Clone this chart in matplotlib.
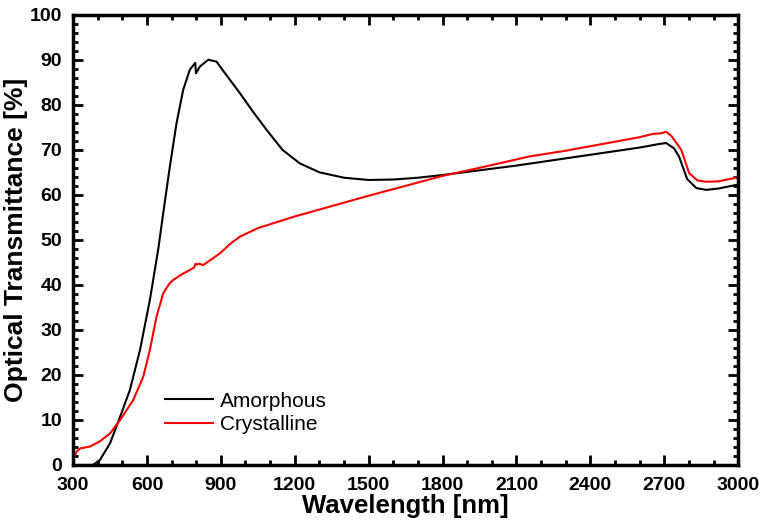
import matplotlib
matplotlib.use('Agg')
import matplotlib.pyplot as plt
from matplotlib.ticker import MultipleLocator

plt.rcParams['font.family'] = ['Liberation Sans', 'DejaVu Sans']

# amorphous film
wl_amorph = [300, 340, 381, 409, 450, 491, 531, 572, 612, 646, 666, 693, 720, 747, 774,
             796, 799, 815, 849, 882, 936, 977, 1030, 1086, 1150, 1220, 1300, 1400, 1500,
             1600, 1700, 1800, 1900, 2000, 2100, 2200, 2300, 2400, 2500, 2600, 2680, 2708,
             2740, 2760, 2793, 2830, 2870, 2920, 2983, 3000]
T_amorph = [0, 0, 0, 1.1, 4.8, 10.7, 16.7, 25.6, 36.7, 48, 55.9, 66.3, 75.9, 83.3, 87.8,
            89.3, 87.0, 88.5, 90, 89.6, 85.6, 82.6, 78.5, 74.4, 70, 67, 65, 63.8, 63.3,
            63.4, 63.8, 64.4, 65.1, 65.8, 66.5, 67.3, 68.1, 68.9, 69.7, 70.5, 71.3, 71.5,
            70.3, 68.5, 63.5, 61.5, 61.1, 61.4, 62.1, 62.3]

# crystalline film
wl_cryst = [300, 315, 330, 369, 410, 450, 491, 544, 585, 612, 639, 666, 690, 707, 740,
            774, 792, 797, 802, 812, 828, 860, 896, 940, 977, 1050, 1200, 1350, 1500,
            1650, 1800, 1950, 2031, 2150, 2300, 2450, 2600, 2651, 2690, 2708, 2730, 2769,
            2801, 2835, 2870, 2920, 2983, 3000]
T_cryst = [1.5, 3, 3.7, 4.1, 5.3, 7.0, 10, 14.4, 19.6, 25.6, 33, 38.1, 40.2, 41.1, 42.3,
           43.3, 43.9, 44.7, 44.5, 44.7, 44.4, 45.6, 47, 49.2, 50.7, 52.6, 55.2, 57.5, 59.8,
           62, 64.2, 66, 67, 68.5, 69.8, 71.3, 72.8, 73.5, 73.7, 74, 73, 70,
           64.8, 63.2, 62.9, 63, 63.7, 64]

fig, ax = plt.subplots(figsize=(7.61, 5.26), dpi=100)
fig.subplots_adjust(left=0.096, right=0.97, top=0.972, bottom=0.116)

ax.plot(wl_amorph, T_amorph, color='black', lw=1.5, label='Amorphous')
ax.plot(wl_cryst, T_cryst, color='red', lw=1.5, label='Crystalline')

ax.set_xlim(300, 3000)
ax.set_ylim(0, 100)
ax.xaxis.set_major_locator(MultipleLocator(300))
ax.xaxis.set_minor_locator(MultipleLocator(100))
ax.yaxis.set_major_locator(MultipleLocator(10))
ax.yaxis.set_minor_locator(MultipleLocator(2))

ax.tick_params(which='both', direction='in', top=True, right=True, width=2)
ax.tick_params(which='major', length=3.5, labelsize=14)
ax.tick_params(which='minor', length=3.5)
ax.tick_params(axis='x', which='major', bottom=True, length=7, pad=9)
ax.tick_params(axis='y', which='major', left=True, length=7, pad=8)
for lab in ax.get_xticklabels() + ax.get_yticklabels():
    lab.set_fontweight('bold')
for s in ax.spines.values():
    s.set_linewidth(2.5)

ax.set_xlabel('Wavelength [nm]', fontsize=18.5, fontweight='bold', labelpad=0)
ax.set_ylabel('Optical Transmittance [%]', fontsize=19, fontweight='bold', labelpad=1)

ax.legend(loc='center left', bbox_to_anchor=(0.138, 0.116), frameon=False,
          borderpad=0, borderaxespad=0, fontsize=15, handlelength=2.3,
          handletextpad=0.35, labelspacing=0.2)

plt.savefig('out.png', dpi=100)
